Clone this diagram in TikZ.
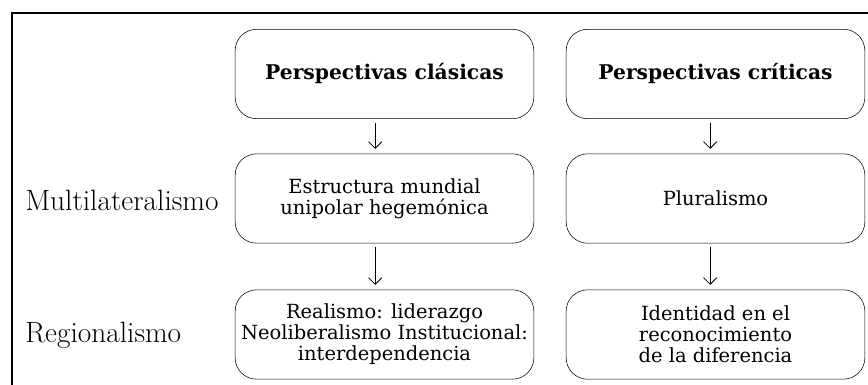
\documentclass[tikz,border=0pt]{standalone}
\usepackage{fontspec}
\usetikzlibrary{arrows.meta}
\newfontfamily\boxfont{DejaVu Serif}

\begin{document}
\begin{tikzpicture}
    [x=0.75pt,y=-0.75pt,
     box/.style={draw,rounded corners=16pt,minimum width=224pt,minimum height=67pt,
                 align=center,font=\boxfont\fontsize{14.6}{15.8}\selectfont,inner sep=2pt},
     head/.style={box,font=\boxfont\bfseries\fontsize{15.2}{17}\selectfont},
     level/.style={anchor=west,font=\fontsize{22}{26}\selectfont,inner sep=0pt},
     flow/.style={-{Straight Barb[length=5pt,width=10pt]},semithick,shorten <=3pt,shorten >=3.5pt}]
    \useasboundingbox (0,0) rectangle (868,385);
    %Frame
    \draw[line width=1.8pt] (12,386) -- (12,13) -- (869,13);

    %Nodes
    \node[head] (cla) at (384.5,74){Perspectivas clásicas};
    \node[head] (cri) at (715.5,74){Perspectivas críticas};
    \node[box] (est) at (384.5,198.5){Estructura mundial\\unipolar hegemónica};
    \node[box] (plu) at (715.5,198.5){Pluralismo};
    \node[box] (rea) at (384.5,334.5){Realismo: liderazgo\\Neoliberalismo Institucional:\\interdependencia};
    \node[box] (ide) at (715.5,334.5){Identidad en el\\reconocimiento\\de la diferencia};

    \node[level] (mul) at (25,200){Multilateralismo};
    \node[level] (reg) at (25,335){Regionalismo};

    %Edges
    \draw[flow] ([xshift=-7pt]cla.south) -- ([xshift=-7pt]est.north);
    \draw[flow] ([xshift=-4pt]cri.south) -- ([xshift=-4pt]plu.north);
    \draw[flow] ([xshift=-7pt]est.south) -- ([xshift=-7pt]rea.north);
    \draw[flow] ([xshift=-4pt]plu.south) -- ([xshift=-4pt]ide.north);

\end{tikzpicture}
\end{document}
